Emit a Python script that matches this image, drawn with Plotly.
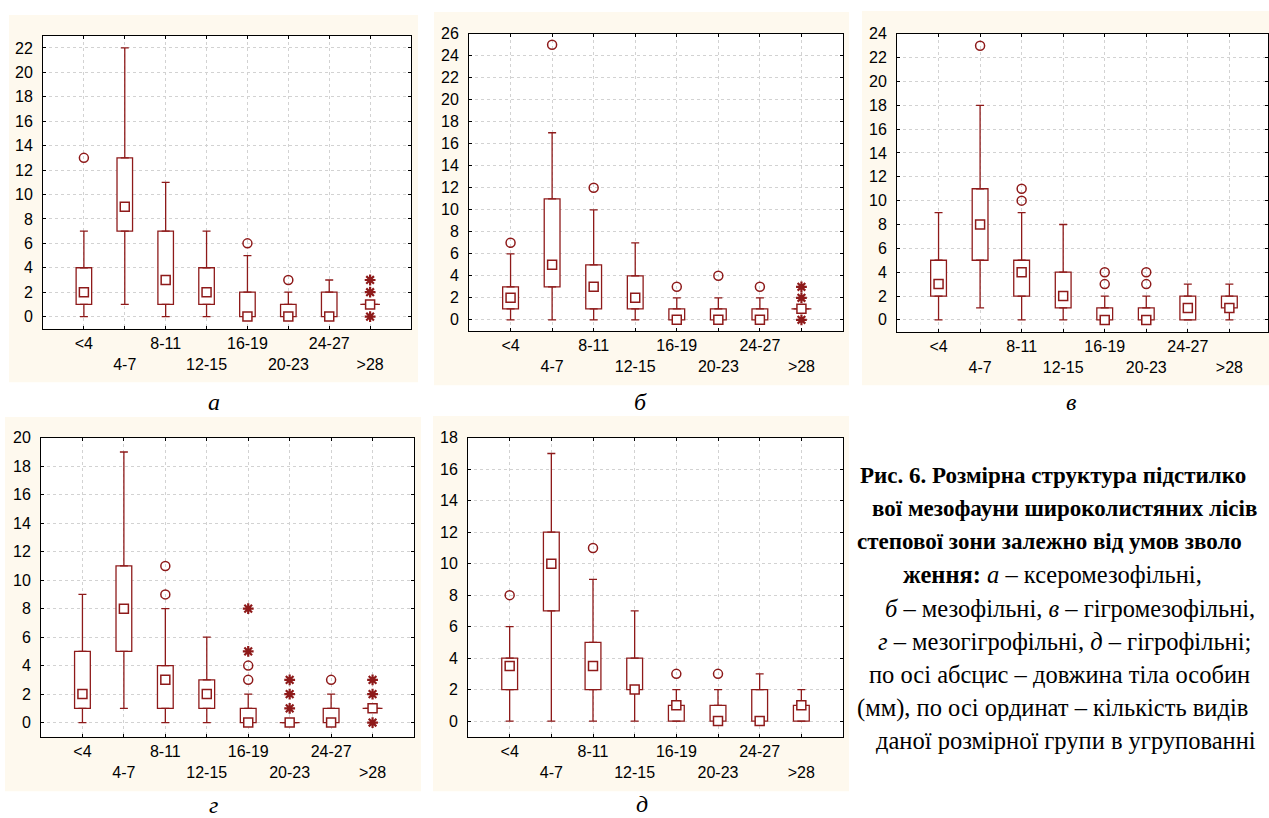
import plotly.graph_objects as go

# ---------------- data ----------------
categories = ["<4", "4-7", "8-11", "12-15", "16-19", "20-23", "24-27", ">28"]

# panel а
a_q1 = [1, 7, 1, 1, 0, 0, 0, 1]
a_med = [2, 9, 3, 2, 0, 0, 0, 1]
a_q3 = [4, 13, 7, 4, 2, 1, 2, 1]
a_lo = [0, 1, 0, 0, 0, 0, 0, 1]
a_hi = [7, 22, 11, 7, 5, 2, 3, 1]
a_out_cat = ["<4", "16-19", "20-23"]
a_out_val = [13, 6, 3]
a_ext_cat = [">28", ">28", ">28"]
a_ext_val = [0, 2, 3]

# panel б
b_q1 = [1, 3, 1, 1, 0, 0, 0, 1]
b_med = [2, 5, 3, 2, 0, 0, 0, 1]
b_q3 = [3, 11, 5, 4, 1, 1, 1, 1]
b_lo = [0, 0, 0, 0, 0, 0, 0, 1]
b_hi = [6, 17, 10, 7, 2, 2, 2, 1]
b_out_cat = ["<4", "4-7", "8-11", "16-19", "20-23", "24-27"]
b_out_val = [7, 25, 12, 3, 4, 3]
b_ext_cat = [">28", ">28", ">28"]
b_ext_val = [0, 2, 3]

# panel в
c_q1 = [2, 5, 2, 1, 0, 0, 0, 1]
c_med = [3, 8, 4, 2, 0, 0, 1, 1]
c_q3 = [5, 11, 5, 4, 1, 1, 2, 2]
c_lo = [0, 1, 0, 0, 0, 0, 0, 0]
c_hi = [9, 18, 9, 8, 2, 2, 3, 3]
c_out_cat = ["4-7", "8-11", "8-11", "16-19", "16-19", "20-23", "20-23"]
c_out_val = [23, 10, 11, 3, 4, 3, 4]
c_ext_cat = []
c_ext_val = []

# panel г
d_q1 = [1, 5, 1, 1, 0, 0, 0, 1]
d_med = [2, 8, 3, 2, 0, 0, 0, 1]
d_q3 = [5, 11, 4, 3, 1, 0, 1, 1]
d_lo = [0, 1, 0, 0, 0, 0, 0, 1]
d_hi = [9, 19, 8, 6, 2, 0, 2, 1]
d_out_cat = ["8-11", "8-11", "16-19", "16-19", "24-27"]
d_out_val = [9, 11, 3, 4, 3]
d_ext_cat = ["16-19", "16-19", "20-23", "20-23", "20-23", ">28", ">28", ">28"]
d_ext_val = [5, 8, 1, 2, 3, 0, 2, 3]

# panel д
e_q1 = [2, 7, 2, 2, 0, 0, 0, 0]
e_med = [3.5, 10, 3.5, 2, 1, 0, 0, 1]
e_q3 = [4, 12, 5, 4, 1, 1, 2, 1]
e_lo = [0, 0, 0, 0, 0, 0, 0, 0]
e_hi = [6, 17, 9, 7, 2, 2, 3, 2]
e_out_cat = ["<4", "8-11", "16-19", "20-23"]
e_out_val = [8, 11, 3, 3]
e_ext_cat = []
e_ext_val = []

panel_letters = ["а", "б", "в", "г", "д"]
y_tops = [23, 26, 24, 20, 18]

caption_lines = [
    "<b>Рис. 6. Розмірна структура підстилко</b>",
    "<b>вої мезофауни широколистяних лісів</b>",
    "<b>степової зони залежно від умов зволо</b>",
    "<b>ження:</b> <i>а</i> – ксеромезофільні,",
    "<i>б</i> – мезофільні, <i>в</i> – гігромезофільні,",
    "<i>г</i> – мезогігрофільні, <i>д</i> – гігрофільні;",
    "по осі абсцис – довжина тіла особин",
    "(мм), по осі ординат – кількість видів",
    "даної розмірної групи в угрупованні",
]

# ---------------- styling / layout ----------------
W, H = 1269, 818
RED = "#8E1A1A"
CREAM = "#FEF9EE"
GRID = "#D2D2D2"
SANS = "Liberation Sans, Arial, sans-serif"
SERIF = "Liberation Serif, Times New Roman, serif"

# (plot left, right, top, bottom), (cream left, right, top, bottom), x max, caption x, caption y  [pixels]
geom = [
    ((43, 411, 28, 324), (9, 418, 7, 378), 8, 214, 398),
    ((469, 843, 26, 326), (434, 849, 4, 381), 8, 641, 398),
    ((897, 1268, 26, 327), (862, 1269, 3, 381), 7.93, 1071, 398),
    ((41, 414, 434, 736), (5, 421, 413, 791), 8, 213, 805),
    ((468, 843, 434, 736), (433, 849, 412, 791), 8, 642, 804),
]
# caption line placement: (anchor, x px, font size) ; lines spaced evenly from y0
caption_place = [("left", 858, 23), ("left", 870, 23), ("left", 855, 23),
                 ("center", 1052, 24.5), ("center", 1070, 24.5), ("center", 1064, 24.5),
                 ("center", 1059, 24.5), ("left", 855, 24.5), ("center", 1066, 24.5)]
CAP_Y0, CAP_DY = 472, 33.5

panels = [
    (a_q1, a_med, a_q3, a_lo, a_hi, a_out_cat, a_out_val, a_ext_cat, a_ext_val),
    (b_q1, b_med, b_q3, b_lo, b_hi, b_out_cat, b_out_val, b_ext_cat, b_ext_val),
    (c_q1, c_med, c_q3, c_lo, c_hi, c_out_cat, c_out_val, c_ext_cat, c_ext_val),
    (d_q1, d_med, d_q3, d_lo, d_hi, d_out_cat, d_out_val, d_ext_cat, d_ext_val),
    (e_q1, e_med, e_q3, e_lo, e_hi, e_out_cat, e_out_val, e_ext_cat, e_ext_val),
]


def px_x(p):
    return p / W


def px_y(p):
    return 1 - p / H


idx = list(range(len(categories)))
pos = {c: i for i, c in enumerate(categories)}
ticktext = []
for i, c in enumerate(categories):
    t = c.replace("<", "&lt;").replace(">", "&gt;")
    ticktext.append(t if i % 2 == 0 else "<br>" + t)

fig = go.Figure()
shapes = []
annotations = []
layout_axes = {}
BOXW = 0.38

for k, (data, g) in enumerate(zip(panels, geom)):
    q1, med, q3, lo, hi, oc, ov, ec, ev = data
    (pl, pr, pt, pb), (cl, cr, ct, cb), xmax, capx, capy = g
    n = "" if k == 0 else str(k + 1)
    xa, ya = "x" + n, "y" + n

    # box bodies
    fig.add_trace(go.Bar(
        x=idx, y=[b - a for a, b in zip(q1, q3)], base=q1, width=BOXW,
        marker=dict(color="white", line=dict(color=RED, width=1.3)),
        xaxis=xa, yaxis=ya, hoverinfo="skip"))
    # upper whiskers
    fig.add_trace(go.Scatter(
        x=idx, y=q3, mode="markers", marker=dict(opacity=0, size=1),
        error_y=dict(type="data", symmetric=False,
                     array=[h - t for h, t in zip(hi, q3)], arrayminus=[0] * len(q3),
                     width=4, thickness=1.3, color=RED),
        xaxis=xa, yaxis=ya, hoverinfo="skip"))
    # lower whiskers
    fig.add_trace(go.Scatter(
        x=idx, y=q1, mode="markers", marker=dict(opacity=0, size=1),
        error_y=dict(type="data", symmetric=False,
                     array=[0] * len(q1), arrayminus=[a - l for a, l in zip(q1, lo)],
                     width=4, thickness=1.3, color=RED),
        xaxis=xa, yaxis=ya, hoverinfo="skip"))
    # flat (zero-height) boxes
    flat = [i for i in idx if q1[i] == q3[i]]
    if flat:
        fig.add_trace(go.Scatter(
            x=flat, y=[q1[i] for i in flat], mode="markers",
            marker=dict(opacity=0, size=1),
            error_x=dict(type="constant", value=BOXW / 2 + 0.05, width=0,
                         thickness=1.3, color=RED),
            xaxis=xa, yaxis=ya, hoverinfo="skip"))
    # medians
    fig.add_trace(go.Scatter(
        x=idx, y=med, mode="markers",
        marker=dict(symbol="square", size=9, color="white",
                    line=dict(color=RED, width=1.5)),
        xaxis=xa, yaxis=ya))
    # outliers
    if oc:
        fig.add_trace(go.Scatter(
            x=[pos[c] for c in oc], y=ov, mode="markers",
            marker=dict(symbol="circle-open", size=9, color=RED,
                        line=dict(color=RED, width=1.5)),
            xaxis=xa, yaxis=ya))
    # extremes
    if ec:
        fig.add_trace(go.Scatter(
            x=[pos[c] for c in ec], y=ev, mode="markers",
            marker=dict(symbol="asterisk-open", size=9, color=RED,
                        line=dict(color=RED, width=2.2)),
            xaxis=xa, yaxis=ya))

    axis_common = dict(showline=True, linecolor="black", linewidth=1, mirror="ticks",
                       showgrid=True, gridcolor=GRID, griddash="dot", gridwidth=1,
                       zeroline=False, ticks="inside", ticklen=3, tickcolor="black",
                       tickfont=dict(family=SANS, size=16, color="black"))
    layout_axes["xaxis" + n] = dict(
        axis_common, domain=[px_x(pl), px_x(pr)], range=[-1, xmax],
        tickmode="array", tickvals=idx, ticktext=ticktext, tickangle=0,
        anchor=ya)
    layout_axes["yaxis" + n] = dict(
        axis_common, domain=[px_y(pb), px_y(pt)], range=[-1, y_tops[k]],
        dtick=2, tick0=0, ticklabelstandoff=6, anchor=xa)

    shapes.append(dict(type="rect", xref="paper", yref="paper", layer="below",
                       x0=px_x(cl), x1=px_x(cr), y0=px_y(cb), y1=px_y(ct),
                       fillcolor=CREAM, line=dict(width=0)))
    shapes.append(dict(type="rect", xref="paper", yref="paper", layer="below",
                       x0=px_x(pl), x1=px_x(pr), y0=px_y(pb), y1=px_y(pt),
                       fillcolor="white", line=dict(width=0)))
    annotations.append(dict(text="<i>" + panel_letters[k] + "</i>", xref="paper", yref="paper",
                            x=px_x(capx), y=px_y(capy), xanchor="center", yanchor="middle",
                            showarrow=False, font=dict(family=SERIF, size=24, color="black")))

for i, (line, (anc, xp, fs)) in enumerate(zip(caption_lines, caption_place)):
    annotations.append(dict(text=line, xref="paper", yref="paper",
                            x=px_x(xp), y=px_y(CAP_Y0 + CAP_DY * i),
                            xanchor=anc, yanchor="middle", showarrow=False,
                            font=dict(family=SERIF, size=fs, color="black")))

fig.update_layout(
    width=W, height=H, margin=dict(l=0, r=0, t=0, b=0),
    paper_bgcolor="white", plot_bgcolor="white", showlegend=False,
    barmode="overlay", shapes=shapes, annotations=annotations, **layout_axes)

fig.write_html("out.html")
